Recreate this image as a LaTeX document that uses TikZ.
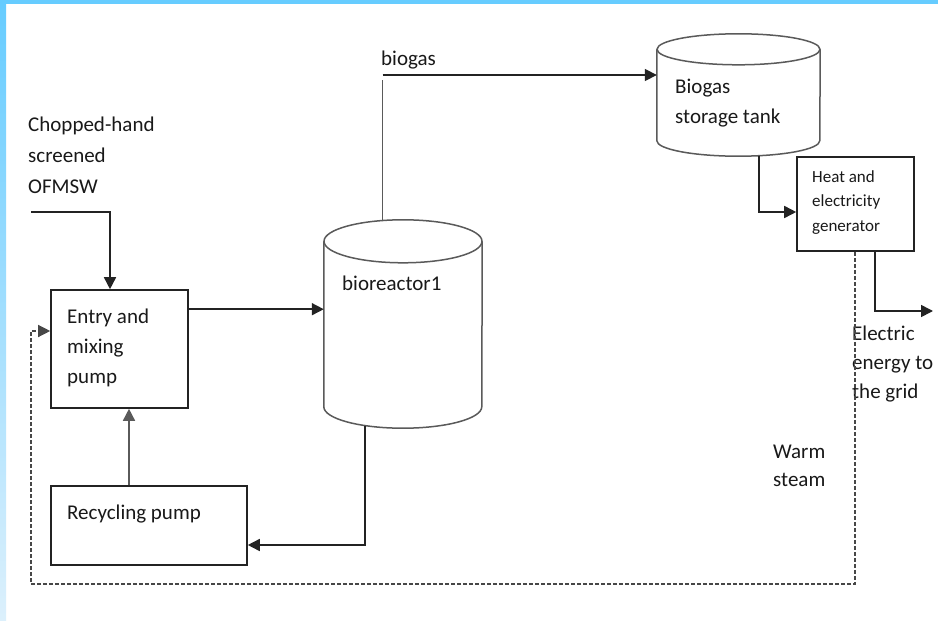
\documentclass[tikz,border=0pt]{standalone}
\usepackage{fontspec}
\setmainfont{Carlito}
\usetikzlibrary{arrows.meta}
\definecolor{frameblue}{RGB}{102,204,255}
\definecolor{framepale}{RGB}{220,240,252}
\definecolor{ink}{RGB}{25,25,25}
\definecolor{wire}{RGB}{35,35,35}
\definecolor{shell}{RGB}{90,90,90}

% cylinder outline drawn over an invisible node: node, half width, end radius
\newcommand\drawdrum[3]{%
  \draw[drum] ([yshift=-#3]#1.north west) -- ([yshift=#3]#1.south west)
     arc[start angle=180,end angle=360,x radius=#2,y radius=#3]
     -- ([yshift=-#3]#1.north east);
  \draw[drum] ([yshift=-#3]#1.north) ellipse[x radius=#2,y radius=#3];
}

\tikzset{
  unit/.style={draw=wire, line width=1.6pt},
  drum/.style={draw=shell, line width=1.5pt},
  block/.style={unit, rectangle, inner sep=0pt},
  hull/.style={rectangle, inner sep=0pt},
  tip/.style={-{Triangle[length=12pt,width=12pt]}},
  arr/.style={draw=wire, line width=1.6pt, tip},
  pipe/.style={draw=shell, line width=1.6pt},
  steam/.style={draw=black!72, line width=1.3pt, dash pattern=on 4pt off 2pt, tip},
  txt/.style={anchor=north west, inner sep=0pt, align=left, text=ink,
              font=\fontsize{21}{30}\selectfont},
}

\begin{document}
\begin{tikzpicture}[x=1pt, y=-1pt]
  % page and frame bands
  \useasboundingbox (0,0) rectangle (938,621);
  \fill[white] (0,0) rectangle (938,621);
  \shade[top color=frameblue, bottom color=framepale] (0,0) rectangle (6,621);
  \fill[frameblue] (0,0) rectangle (938,4);

  % process units
  \node[block, minimum width=137pt, minimum height=118pt] (entry) at (119.5,349) {};
  \node[block, minimum width=196pt, minimum height=79pt] (recyc) at (149,525.5) {};
  \node[block, minimum width=117pt, minimum height=94pt] (gen) at (855.5,204) {};
  \node[hull, minimum width=158pt, minimum height=208pt] (reactor) at (403,324) {};
  \node[hull, minimum width=163pt, minimum height=122pt] (tank) at (738.5,95) {};
  \drawdrum{reactor}{79pt}{21.5pt}
  \drawdrum{tank}{81.5pt}{15.5pt}

  % texts
  \node[txt, font=\fontsize{21}{31}\selectfont] (feedtxt) at (28,110)
    {\strut Chopped-hand\\screened\\OFMSW};
  \node[txt] (entrytxt) at (67,302) {\strut Entry and\\mixing\\pump};
  \node[txt] (recyctxt) at (67,498) {\strut Recycling pump};
  \node[txt] (reactortxt) at (342,269) {\strut bioreactor1};
  \node[txt] (gastxt) at (381,44) {\strut biogas};
  \node[txt] (tanktxt) at (675,72) {\strut Biogas\\storage tank};
  \node[txt, font=\fontsize{17}{24.5}\selectfont] (gentxt) at (812,165)
    {\strut Heat and\\electricity\\generator};
  \node[txt, font=\fontsize{21}{29}\selectfont] (gridtxt) at (852,320)
    {\strut Electric\\energy to\\the grid};
  \node[txt, font=\fontsize{21}{28}\selectfont] (steamtxt) at (773,439)
    {\strut Warm\\steam};

  % connector end points
  \coordinate (feedin) at (31,212);
  \coordinate (gasup) at (382.5,80);
  \coordinate (gasleft) at (382.5,75);
  \coordinate (grid) at (933,311);
  \coordinate (steamR) at (855,584);
  \coordinate (steamL) at (31,584);
  \coordinate (mixout) at ([yshift=-20pt]entry.north east);

  % flows
  \draw[arr] (feedin) -| ([xshift=-9.5pt]entry.north);
  \draw[arr] (mixout) -- (mixout -| reactor.west);
  \draw[arr, draw=shell] ([xshift=-20pt]recyc.north) -- ([xshift=9.5pt]entry.south);
  \draw[arr] ([xshift=-38pt,yshift=2.5pt]reactor.south) |- ([yshift=-19.5pt]recyc.east);
  \draw[pipe] (gasup |- reactor.north) -- (gasup);
  \draw[arr] (gasleft) -- (gasleft -| tank.west);
  \draw[arr] ([xshift=20.5pt,yshift=0.5pt]tank.south) |- ([yshift=-8pt]gen.west);
  \draw[arr] ([xshift=19.5pt]gen.south) |- (grid);
  \draw[steam] ([xshift=-0.5pt]gen.south) -- (steamR) -- (steamL) |- ([yshift=18pt]entry.west);
\end{tikzpicture}
\end{document}
